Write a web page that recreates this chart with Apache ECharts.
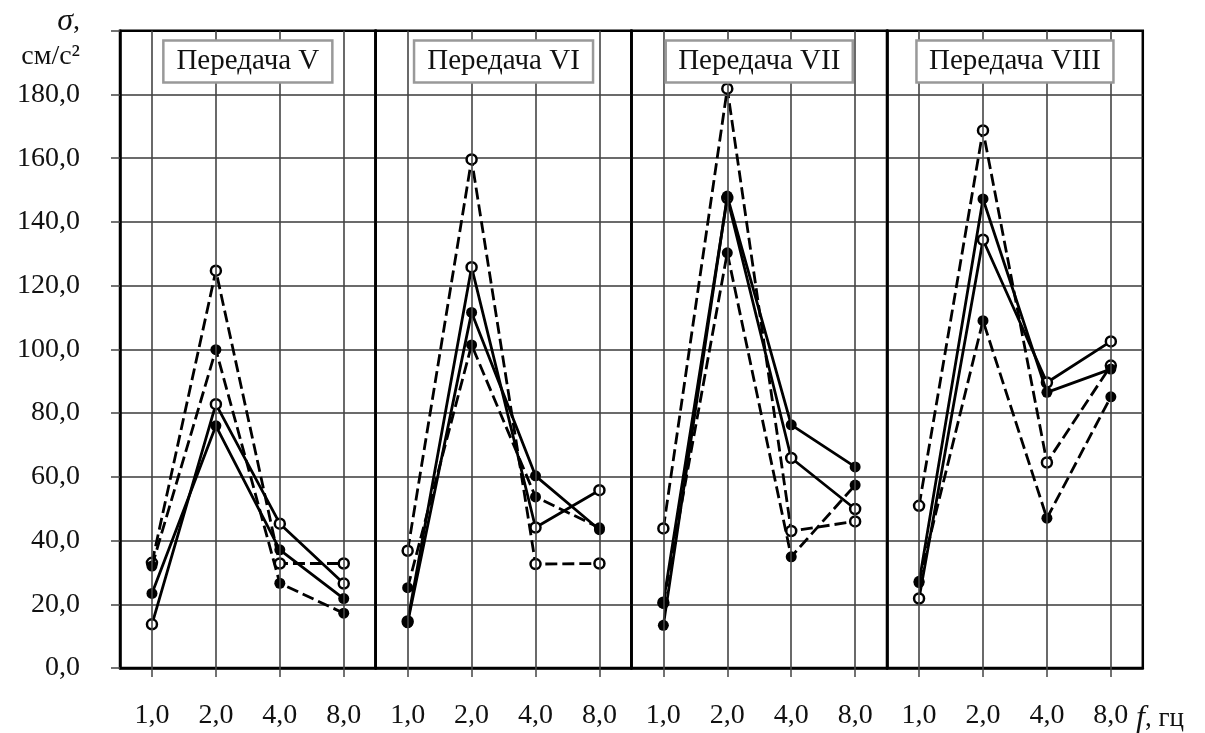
<!DOCTYPE html>
<html>
<head>
<meta charset="utf-8">
<script src="https://cdn.jsdelivr.net/npm/echarts@6/dist/echarts.min.js"></script>
<style>
  html, body { margin: 0; padding: 0; background: #fff; }
  #chart { width: 1205px; height: 733px; }
</style>
</head>
<body>
<div id="chart"></div>
<script>
// частоты и заголовки панелей
const categories = ['1,0', '2,0', '4,0', '8,0'];
const panels = ['Передача V', 'Передача VI', 'Передача VII', 'Передача VIII'];

// значения σ по панелям (V, VI, VII, VIII)
const dashOpen = [
    [33.0, 124.7, 32.8, 32.8],
    [36.8, 159.6, 32.6, 32.8],
    [43.8, 181.8, 43.0, 46.0],
    [50.9, 168.7, 64.5, 94.9]
];
const solidOpen = [
    [13.7, 82.8, 45.3, 26.5],
    [14.6, 125.8, 44.1, 55.8],
    [20.5, 147.5, 65.9, 49.9],
    [21.8, 134.4, 89.6, 102.5]
];
const dashFilled = [
    [32.0, 99.9, 26.6, 17.2],
    [25.2, 101.4, 53.7, 44.0],
    [20.3, 130.3, 34.9, 57.4],
    [27.2, 109.0, 47.0, 85.1]
];
const solidFilled = [
    [23.4, 76.0, 37.1, 21.8],
    [14.2, 111.6, 60.3, 43.4],
    [13.4, 148.1, 76.3, 63.1],
    [26.8, 147.2, 86.5, 93.8]
];

const FONT = '"Liberation Serif", "Times New Roman", serif';
const LEFT = 120;
const TOP = 30.7;
const W = 255.7;
const H = 637.3;
const TITLE_PAD = 13;

const chart = echarts.init(document.getElementById('chart'));

const grids = [];
const xAxes = [];
const yAxes = [];
const titles = [];
const series = [];

const lineSeries = (data, i, dashed, filled) => ({
    type: 'line',
    xAxisIndex: i,
    yAxisIndex: i,
    data: data,
    symbol: 'circle',
    symbolSize: filled ? 11 : 10,
    z: filled ? 4 : 3,
    silent: true,
    animation: false,
    lineStyle: {
        color: '#000',
        width: 2.8,
        type: dashed ? [12, 5] : 'solid'
    },
    itemStyle: {
        color: filled ? '#000' : '#fff',
        borderColor: '#000',
        borderWidth: filled ? 0 : 2.5
    }
});

panels.forEach((name, i) => {
    grids.push({
        left: LEFT + i * W,
        top: TOP,
        width: W,
        height: H,
        show: true,
        borderColor: '#000',
        borderWidth: 2.5,
        backgroundColor: 'transparent'
    });
    xAxes.push({
        type: 'category',
        gridIndex: i,
        data: categories,
        boundaryGap: true,
        axisLine: { show: true, lineStyle: { color: '#000', width: 2.5 } },
        axisTick: { show: true, alignWithLabel: true, length: 9, lineStyle: { color: '#444', width: 1.5 } },
        axisLabel: { fontFamily: FONT, fontSize: 28, color: '#111', margin: 34 },
        splitLine: { show: false }
    });
    yAxes.push({
        type: 'value',
        gridIndex: i,
        min: 0,
        max: 200,
        interval: 20,
        axisLine: { show: true, lineStyle: { color: '#000', width: 2.5 } },
        axisTick: { show: i === 0, length: 9, lineStyle: { color: '#444', width: 1.5 } },
        axisLabel: {
            show: i === 0,
            fontFamily: FONT,
            fontSize: 28,
            color: '#111',
            margin: 40,
            formatter: v => (v >= 200 ? '' : v.toFixed(1).replace('.', ','))
        },
        splitLine: {
            show: true,
            showMinLine: false,
            showMaxLine: false,
            lineStyle: { color: '#3a3a3a', width: 1.6 }
        }
    });
    titles.push({
        text: name,
        left: LEFT + i * W + W / 2 - TITLE_PAD,
        top: 40,
        textAlign: 'center',
        backgroundColor: '#fff',
        borderColor: '#999',
        borderWidth: 2.5,
        padding: [7, TITLE_PAD],
        textStyle: { fontFamily: FONT, fontSize: 29, fontWeight: 'normal', color: '#111' }
    });

    // вертикальные линии сетки на частотах
    series.push({
        type: 'line',
        xAxisIndex: i,
        yAxisIndex: i,
        data: dashOpen[i],
        showSymbol: false,
        silent: true,
        animation: false,
        z: 1,
        lineStyle: { opacity: 0 },
        markLine: {
            silent: true,
            animation: false,
            symbol: 'none',
            label: { show: false },
            lineStyle: { color: '#444', width: 1.6, type: 'solid' },
            data: categories.map(c => ({ xAxis: c }))
        }
    });

    series.push(lineSeries(dashOpen[i], i, true, false));
    series.push(lineSeries(solidOpen[i], i, false, false));
    series.push(lineSeries(dashFilled[i], i, true, true));
    series.push(lineSeries(solidFilled[i], i, false, true));
});

chart.setOption({
    animation: false,
    backgroundColor: '#fff',
    title: titles,
    grid: grids,
    xAxis: xAxes,
    yAxis: yAxes,
    series: series,
    graphic: [
        {
            type: 'text',
            style: {
                x: 80, y: 22, align: 'right', verticalAlign: 'middle',
                text: '{i|σ},',
                font: '28px ' + FONT,
                fill: '#111',
                rich: { i: { fontStyle: 'italic', fontFamily: FONT, fontSize: 32, fill: '#111' } }
            }
        },
        {
            type: 'text',
            style: {
                x: 80, y: 57, align: 'right', verticalAlign: 'middle',
                text: 'см/с²',
                font: '28px ' + FONT,
                fill: '#111'
            }
        },
        {
            type: 'text',
            style: {
                x: 1136, y: 719, align: 'left', verticalAlign: 'middle',
                text: '{i|f}, гц',
                font: '27px ' + FONT,
                fill: '#111',
                rich: { i: { fontStyle: 'italic', fontFamily: FONT, fontSize: 32, fill: '#111' } }
            }
        }
    ]
});
</script>
</body>
</html>
